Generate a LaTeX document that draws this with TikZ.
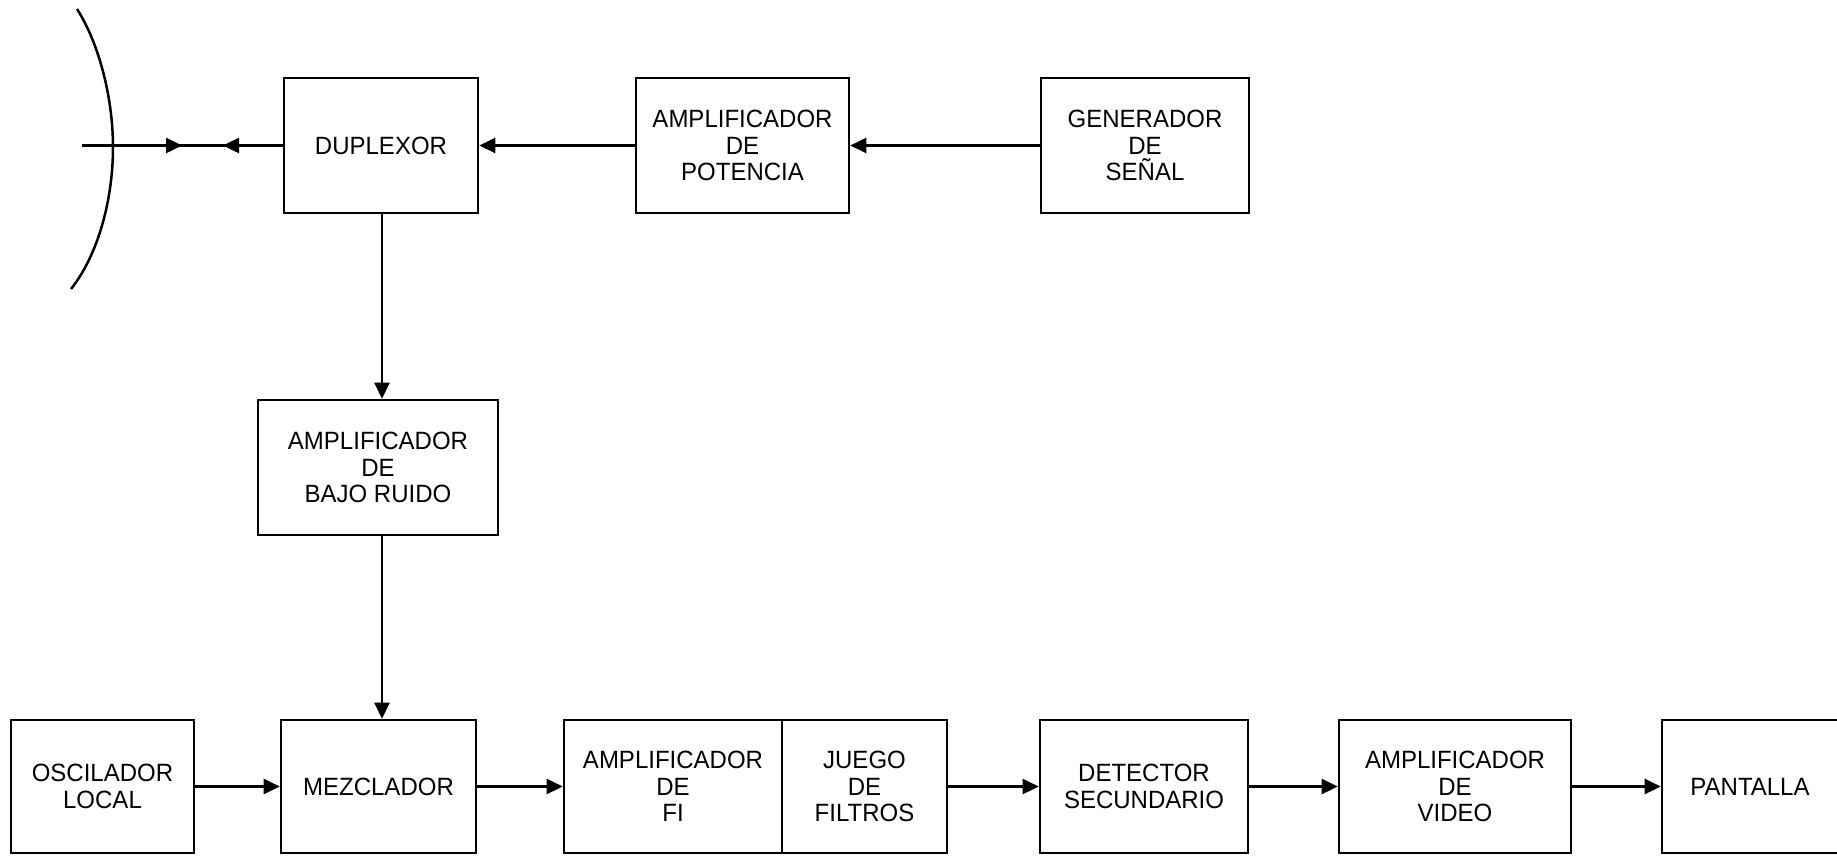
\documentclass[tikz,border=0pt]{standalone}
\usepackage{fontspec}
\setmainfont{Liberation Sans}[FakeStretch=0.96]
\usetikzlibrary{arrows.meta}
\begin{document}
\begin{tikzpicture}[x=1pt,y=-1pt,
  blk/.style={draw,line width=2.6pt,inner sep=0pt,align=center,
    font=\fontsize{25}{26.5}\selectfont},
  conn/.style={line width=2.5pt},
  arr/.style={line width=2.5pt,-{Triangle[length=16pt,width=15pt]}}]
\useasboundingbox (0,0) rectangle (1837,855);
% top row
\node[blk,minimum width=194pt,minimum height=135pt] (dup) at (381,145.5) {DUPLEXOR};
\node[blk,minimum width=213pt,minimum height=135pt] (pot) at (742.5,145.5) {AMPLIFICADOR\\DE\\POTENCIA};
\node[blk,minimum width=208pt,minimum height=135pt] (gen) at (1145,145.5) {GENERADOR\\DE\\SEÑAL};
% LNA
\node[blk,minimum width=240pt,minimum height=135pt] (lna) at (378,467.5) {AMPLIFICADOR\\DE\\BAJO RUIDO};
% bottom row
\node[blk,minimum width=183pt,minimum height=133pt] (osc) at (102.5,786.5) {OSCILADOR\\LOCAL};
\node[blk,minimum width=195pt,minimum height=133pt] (mez) at (378.5,786.5) {MEZCLADOR};
\node[blk,minimum width=218pt,minimum height=133pt] (fi) at (673,786.5) {AMPLIFICADOR\\DE\\FI};
\node[blk,minimum width=165pt,minimum height=133pt] (jue) at (864.5,786.5) {JUEGO\\DE\\FILTROS};
\node[blk,minimum width=208pt,minimum height=133pt] (det) at (1144,786.5) {DETECTOR\\SECUNDARIO};
\node[blk,minimum width=232pt,minimum height=133pt] (vid) at (1455,786.5) {AMPLIFICADOR\\DE\\VIDEO};
\node[blk,minimum width=176pt,minimum height=133pt] (pan) at (1750,786.5) {PANTALLA};
% antenna
\draw[line width=2.5pt] (77,9) .. controls (100,45) and (113,100) .. (113,147) .. controls (113,200) and (98,255) .. (71,289);
\coordinate (feed) at (82,145.5);
\coordinate (tipa) at (182,145.5);
\coordinate (tipb) at (223,145.5);
\draw[conn] (feed) -- (dup.west);
\draw[arr] (feed) -- (tipa);
\draw[arr] (dup.west) -- (tipb);
% top connections
\draw[arr] (gen.west) -- (pot.east);
\draw[arr] (pot.west) -- (dup.east);
% vertical chain
\coordinate (vx) at (382,0);
\draw[arr] (vx |- dup.south) -- (vx |- lna.north);
\draw[arr] (vx |- lna.south) -- (vx |- mez.north);
% bottom connections
\draw[arr] (osc.east) -- (mez.west);
\draw[arr] (mez.east) -- (fi.west);
\draw[arr] (jue.east) -- (det.west);
\draw[arr] (det.east) -- (vid.west);
\draw[arr] (vid.east) -- (pan.west);
\end{tikzpicture}
\end{document}
